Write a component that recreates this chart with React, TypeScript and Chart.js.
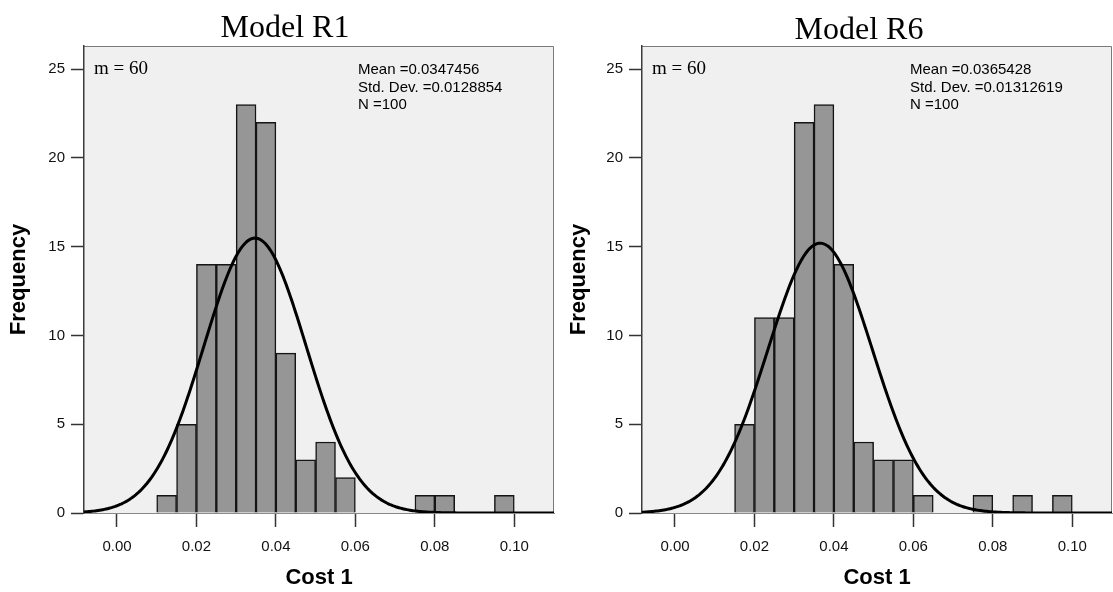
import React, { useEffect, useRef } from "react";
import { Chart, registerables } from "chart.js";

Chart.register(...registerables);

// Histogram bins (lower edges) and frequencies for each model
const binWidth = 0.005;
const binStartsR1 = [0.010, 0.015, 0.020, 0.025, 0.030, 0.035, 0.040, 0.045, 0.050, 0.055, 0.075, 0.080, 0.095];
const countsR1 = [1, 5, 14, 14, 23, 22, 9, 3, 4, 2, 1, 1, 1];
const binStartsR6 = [0.015, 0.020, 0.025, 0.030, 0.035, 0.040, 0.045, 0.050, 0.055, 0.060, 0.075, 0.085, 0.095];
const countsR6 = [5, 11, 11, 22, 23, 14, 4, 3, 3, 1, 1, 1, 1];

// Summary statistics printed in each panel
const meanR1 = 0.0347456;
const sdR1 = 0.0128854;
const nR1 = 100;
const meanR6 = 0.0365428;
const sdR6 = 0.01312619;
const nR6 = 100;

// Axis ticks
const xTicks = [0, 0.02, 0.04, 0.06, 0.08, 0.10];
const yTicks = [0, 5, 10, 15, 20, 25];
const xMin = -0.0083;
const xMax = 0.11;
const yMax = 26.3;

// Normal density scaled to the histogram (count per bin)
function normalCurve(mean: number, sd: number, n: number) {
  const pts: { x: number; y: number }[] = [];
  const steps = 300;
  for (let i = 0; i <= steps; i++) {
    const x = xMin + ((xMax - xMin) * i) / steps;
    const z = (x - mean) / sd;
    const y = (n * binWidth * Math.exp(-0.5 * z * z)) / (sd * Math.sqrt(2 * Math.PI));
    pts.push({ x, y });
  }
  return pts;
}

const panelPlugin = {
  id: "panel",
  beforeDraw(chart: any) {
    const { ctx, chartArea: a } = chart;
    ctx.save();
    ctx.fillStyle = "#f0f0f0";
    ctx.fillRect(a.left, a.top, a.right - a.left, a.bottom - a.top);
    ctx.strokeStyle = "#7a7a7a";
    ctx.lineWidth = 1;
    ctx.beginPath();
    ctx.moveTo(a.left, a.top + 0.5);
    ctx.lineTo(a.right - 0.5, a.top + 0.5);
    ctx.lineTo(a.right - 0.5, a.bottom);
    ctx.stroke();
    ctx.restore();
  },
  afterDatasetsDraw(chart: any, _args: any, opts: any) {
    const { ctx, chartArea: a } = chart;
    ctx.save();
    ctx.fillStyle = "#000";
    ctx.textBaseline = "middle";
    ctx.textAlign = "left";
    ctx.font = "19px 'Liberation Serif'";
    ctx.fillText(opts.note, a.left + 10, a.top + 23);
    ctx.font = "15px 'Liberation Sans'";
    (opts.stats as string[]).forEach((s, i) => {
      ctx.fillText(s, a.left + opts.statsX, a.top + 24 + i * 17.5);
    });
    ctx.restore();
  },
};

function makeConfig(
  starts: number[],
  counts: number[],
  mean: number,
  sd: number,
  n: number,
  sdText: string,
  yWidth: number,
  padRight: number,
  statsX: number
): any {
  const bars = starts.map((s, i) => ({ x: s + binWidth / 2, y: counts[i] }));
  return {
    type: "bar",
    data: {
      datasets: [
        {
          type: "line",
          data: normalCurve(mean, sd, n),
          borderColor: "#000",
          borderWidth: 3,
          pointRadius: 0,
          fill: false,
          order: 0,
        },
        {
          type: "bar",
          data: bars,
          backgroundColor: "#969696",
          borderColor: "#151515",
          borderWidth: 1.5,
          categoryPercentage: 1,
          barPercentage: 1,
          order: 1,
        },
      ],
    },
    options: {
      animation: false,
      responsive: false,
      layout: { padding: { top: 46, right: padRight, bottom: 0, left: 0 } },
      plugins: {
        legend: { display: false },
        tooltip: { enabled: false },
        panel: {
          note: "m = 60",
          statsX,
          stats: [`Mean =${mean}`, `Std. Dev. =${sdText}`, `N =${n}`],
        },
      },
      scales: {
        x: {
          type: "linear",
          min: xMin,
          max: xMax,
          offset: false,
          afterBuildTicks: (s: any) => {
            s.ticks = xTicks.map((v) => ({ value: v }));
          },
          afterFit: (s: any) => {
            s.height = 79;
          },
          grid: {
            display: true,
            drawOnChartArea: false,
            drawTicks: true,
            tickLength: 14,
            tickColor: "#333",
            tickWidth: 1.5,
            offset: false,
          },
          border: { display: true, color: "#8a8a8a", width: 1 },
          ticks: {
            color: "#111",
            font: { size: 15 },
            padding: 11,
            maxRotation: 0,
            autoSkip: false,
            callback: (v: any) => Number(v).toFixed(2),
          },
          title: {
            display: true,
            text: "Cost 1",
            color: "#000",
            font: { size: 22, weight: "bold" },
            padding: { top: 0, bottom: 1 },
          },
        },
        y: {
          type: "linear",
          min: 0,
          max: yMax,
          afterBuildTicks: (s: any) => {
            s.ticks = yTicks.map((v) => ({ value: v }));
          },
          afterFit: (s: any) => {
            s.width = yWidth;
          },
          grid: {
            display: true,
            drawOnChartArea: false,
            drawTicks: true,
            tickLength: 13,
            tickColor: "#333",
            tickWidth: 1.5,
          },
          border: { display: true, color: "#3a3a3a", width: 1.5 },
          ticks: {
            color: "#111",
            font: { size: 15 },
            padding: 6,
          },
          title: {
            display: true,
            text: "Frequency",
            color: "#000",
            font: { size: 22, weight: "bold" },
            padding: { top: 6, bottom: 0 },
          },
        },
      },
    },
    plugins: [panelPlugin],
  };
}

function Histogram(props: { config: any; left: number; width: number }) {
  const ref = useRef<HTMLCanvasElement | null>(null);
  useEffect(() => {
    if (!ref.current) return;
    const chart = new Chart(ref.current, props.config);
    return () => chart.destroy();
  }, []);
  return (
    <canvas
      ref={ref}
      width={props.width}
      height={592}
      style={{ position: "absolute", left: props.left, top: 0, width: props.width, height: 592, display: "block" }}
    />
  );
}

const titleStyle: React.CSSProperties = {
  position: "absolute",
  width: 300,
  textAlign: "center",
  fontFamily: "'Liberation Serif', serif",
  fontSize: 32,
  lineHeight: "32px",
  color: "#000",
  whiteSpace: "nowrap",
};

export default function App() {
  Chart.defaults.font.family = "'Liberation Sans', Arial, sans-serif";
  const left = makeConfig(binStartsR1, countsR1, meanR1, sdR1, nR1, "0.0128854", 84, 6, 274);
  const right = makeConfig(binStartsR6, countsR6, meanR6, sdR6, nR6, "0.01312619", 82, 1, 268);
  return (
    <div style={{ position: "absolute", left: 0, top: 0, width: 1113, height: 592, background: "#fff", overflow: "hidden" }}>
      <Histogram config={left} left={0} width={560} />
      <Histogram config={right} left={560} width={553} />
      <div style={{ ...titleStyle, left: 285 - 150, top: 10 }}>Model R1</div>
      <div style={{ ...titleStyle, left: 859 - 150, top: 12 }}>Model R6</div>
    </div>
  );
}
